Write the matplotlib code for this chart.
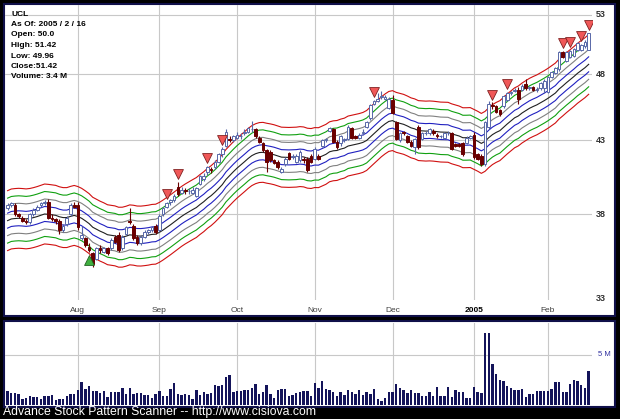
import numpy as np
import pandas as pd
import matplotlib
matplotlib.use('Agg')
import matplotlib.pyplot as plt

plt.rcParams['font.family'] = ['Liberation Sans', 'DejaVu Sans']

# Trading days shown on the chart
HOLIDAYS = ['2004-09-06', '2004-11-25', '2004-12-24', '2005-01-17']
dates = pd.bdate_range('2004-07-06', '2005-02-16')
dates = dates[~dates.isin(pd.to_datetime(HOLIDAYS))]

# Daily prices (July .. Feb)
opens = [38.4, 38.6, 38.6, 38.0, 37.8, 37.6, 37.5, 38.0, 38.3, 38.6, 38.7, 38.8, 37.8, 37.7, 37.6, 37.0, 37.4, 38.0, 38.6,
         38.6, 36.5, 36.5, 36.0, 35.6, 35.3, 35.9, 35.7, 35.9, 35.9, 36.6, 36.7, 35.9, 36.8, 37.6, 37.3, 36.6, 36.2, 36.6, 36.9, 37.0, 37.3,
         37.0, 38.0, 38.5, 38.8, 38.9, 39.8, 39.4, 39.6, 39.5, 39.4, 39.2, 40.0, 40.3, 40.8, 41.0, 41.1, 41.5, 42.0, 42.6, 43.1, 43.0,
         43.2, 43.3, 43.5, 43.6, 43.8, 43.8, 43.2, 42.8, 42.3, 42.2, 41.6, 41.5, 40.8, 41.3, 42.1, 41.8, 41.5, 41.6, 41.7, 41.7, 41.9,
         41.7, 41.9, 42.6, 43.0, 43.7, 43.8, 42.9, 42.8, 43.0, 43.1, 43.9, 43.3, 43.2, 43.5, 44.0, 44.6, 45.7, 45.9, 46.2, 46.1, 45.4,
         46.0, 44.3, 43.0, 43.6, 43.3, 42.9, 42.5, 44.0, 43.1, 43.5, 43.5, 43.7, 43.4, 43.3, 43.2, 43.5, 43.5, 42.7, 42.7, 42.8, 42.8, 43.2,
         43.4, 42.0, 41.9, 41.3, 44.0, 45.6, 45.5, 45.2, 45.5, 46.0, 46.5, 46.7, 46.8, 46.8, 47.2, 46.9, 47.0, 46.8, 46.9, 46.9,
         46.6, 47.8, 48.1, 48.4, 49.8, 49.1, 49.4, 49.5, 50.0, 50.0, 50.3, 50.0]
highs = [38.7, 38.8, 38.7, 38.1, 37.9, 37.7, 38.1, 38.4, 38.6, 38.8, 38.9, 39.0, 38.0, 37.8, 37.7, 37.4, 37.9, 38.7, 38.8,
         38.8, 37.3, 36.6, 36.2, 35.7, 36.0, 36.1, 36.0, 36.0, 36.5, 36.7, 36.9, 36.7, 37.3, 38.4, 37.4, 36.7, 36.7, 37.0, 37.1, 37.3, 37.4,
         38.0, 38.5, 38.8, 39.0, 39.3, 40.1, 39.8, 39.7, 39.7, 39.8, 39.8, 40.6, 40.7, 41.2, 41.1, 41.6, 42.1, 42.5, 43.8, 43.3, 43.4,
         43.6, 43.5, 43.8, 44.0, 44.4, 43.9, 43.3, 42.9, 42.4, 42.3, 41.7, 41.6, 41.1, 41.8, 42.2, 42.0, 42.0, 42.3, 41.8, 41.8, 42.0,
         42.5, 42.0, 43.1, 43.2, 44.0, 43.9, 43.0, 43.4, 43.2, 44.1, 44.0, 43.4, 43.5, 43.8, 44.4, 45.7, 46.0, 46.5, 46.7, 46.4, 46.2,
         46.4, 44.4, 43.6, 43.7, 43.4, 43.0, 43.2, 44.1, 43.6, 43.7, 43.9, 43.8, 43.5, 43.4, 43.6, 43.7, 43.6, 42.8, 42.8, 42.9, 43.3, 43.4,
         43.6, 42.1, 42.0, 44.4, 45.9, 45.8, 45.6, 45.3, 46.4, 46.6, 46.7, 46.9, 47.0, 47.2, 47.6, 47.1, 47.1, 47.0, 47.4, 47.6,
         47.9, 48.3, 48.6, 49.9, 49.9, 49.9, 50.0, 50.2, 50.7, 50.5, 50.8, 51.42]
lows = [38.3, 38.5, 37.9, 37.8, 37.5, 37.4, 37.4, 37.9, 38.2, 38.5, 38.6, 37.7, 37.6, 37.4, 36.8, 36.9, 37.3, 37.9, 38.4,
        37.0, 36.4, 36.0, 35.7, 34.8, 35.2, 35.6, 35.6, 35.5, 35.8, 36.2, 35.7, 35.8, 36.7, 37.4, 36.4, 36.1, 36.1, 36.5, 36.8, 36.9, 36.8,
        36.9, 37.9, 38.4, 38.6, 38.8, 39.2, 39.3, 39.3, 39.3, 39.3, 39.1, 39.9, 40.2, 40.6, 40.7, 41.0, 41.4, 41.8, 42.5, 42.9, 42.9,
        43.1, 43.1, 43.4, 43.5, 43.6, 43.2, 42.8, 42.2, 40.8, 41.5, 41.3, 41.0, 40.7, 41.2, 41.6, 41.7, 41.4, 41.5, 41.4, 40.8, 41.4,
        41.6, 41.6, 42.5, 42.9, 43.6, 42.8, 42.4, 42.6, 42.9, 43.0, 43.1, 43.1, 43.1, 43.4, 43.9, 44.5, 45.6, 45.8, 46.1, 46.0, 45.3,
        44.9, 43.0, 42.9, 43.4, 42.8, 42.5, 42.0, 42.4, 43.0, 43.4, 43.4, 43.4, 43.2, 43.2, 43.1, 43.4, 42.3, 42.5, 42.5, 41.9, 42.7, 43.1,
        41.7, 41.6, 41.2, 41.2, 43.8, 45.3, 45.0, 44.8, 45.4, 45.9, 46.4, 46.6, 45.7, 46.7, 46.8, 46.8, 46.7, 46.6, 46.8, 46.5,
        46.5, 47.7, 48.0, 48.3, 49.3, 49.0, 49.3, 49.4, 49.9, 49.9, 50.2, 49.96]
closes = [38.6, 38.7, 38.0, 37.9, 37.6, 37.5, 38.0, 38.3, 38.5, 38.7, 38.8, 37.8, 37.7, 37.6, 37.0, 37.3, 37.8, 38.6, 38.5,
          37.2, 36.7, 36.1, 35.8, 35.0, 35.9, 35.8, 35.9, 35.6, 36.4, 36.3, 35.8, 36.6, 37.2, 37.5, 36.5, 36.2, 36.6, 36.9, 37.0, 37.2, 36.9,
          37.9, 38.4, 38.7, 38.9, 39.2, 39.3, 39.6, 39.5, 39.5, 39.6, 39.7, 40.5, 40.5, 41.1, 40.9, 41.5, 42.0, 42.4, 43.6, 43.0, 43.3,
          43.4, 43.3, 43.6, 43.9, 43.8, 43.3, 42.9, 42.3, 41.5, 41.6, 41.4, 41.1, 41.0, 41.7, 41.7, 41.9, 41.9, 42.2, 41.6, 40.9, 41.5,
          42.4, 41.7, 43.0, 43.1, 43.9, 42.9, 42.5, 43.3, 43.1, 44.0, 43.2, 43.2, 43.4, 43.6, 44.3, 45.6, 45.9, 46.1, 46.3, 46.2, 46.1,
          45.0, 43.1, 43.5, 43.5, 42.9, 42.6, 43.1, 42.5, 43.5, 43.5, 43.8, 43.5, 43.3, 43.3, 43.5, 43.5, 42.4, 42.6, 42.6, 42.0, 43.2, 43.3,
          41.8, 41.7, 41.3, 44.3, 45.7, 45.5, 45.1, 44.9, 46.3, 46.5, 46.6, 46.8, 46.1, 47.1, 46.9, 47.0, 46.8, 46.8, 47.3, 47.5,
          47.8, 48.2, 48.5, 49.8, 49.4, 49.8, 49.9, 50.1, 50.6, 50.4, 50.7, 51.42]
# Volume in millions
volume = [1.4, 1.2, 1.25, 1.1, 0.6, 0.7, 0.9, 0.85, 0.85, 0.6, 0.95, 0.95, 1.05, 0.5, 0.65, 0.6, 0.95, 1.15, 1.1,
          1.55, 2.3, 1.6, 1.95, 1.4, 1.45, 1.25, 1.4, 0.85, 1.3, 1.35, 1.35, 1.75, 1.15, 1.75, 1.1, 1.25, 1.25, 1.0, 1.05, 0.7, 1.15,
          1.45, 0.95, 0.9, 1.6, 2.2, 1.15, 1.0, 1.15, 1.05, 0.65, 1.5, 1.0, 1.35, 1.15, 1.2, 2.05, 1.9, 2.0, 2.85, 3.05, 1.3,
          1.45, 1.45, 1.55, 1.55, 1.7, 2.1, 1.15, 1.35, 2.0, 1.15, 0.7, 1.5, 1.6, 1.6, 0.9, 1.0, 1.2, 1.35, 1.45, 1.45, 0.9,
          2.25, 1.75, 2.45, 1.65, 1.55, 1.35, 0.9, 1.3, 1.0, 1.55, 1.35, 1.1, 1.55, 1.0, 1.35, 1.15, 1.6, 0.6, 0.4, 0.7, 1.35,
          1.35, 2.1, 1.75, 1.55, 1.25, 1.55, 1.2, 1.25, 0.9, 0.9, 1.35, 0.9, 1.85, 0.9, 0.9, 1.8, 0.8, 1.55, 1.35, 1.35, 0.7, 0.7,
          1.85, 1.35, 1.2, 7.2, 7.25, 4.1, 3.15, 2.55, 2.4, 1.9, 1.75, 1.5, 1.55, 1.6, 0.8, 1.1, 1.15, 1.4, 1.4, 1.4,
          1.45, 1.6, 2.3, 2.3, 1.3, 1.3, 2.1, 2.55, 2.4, 2.0, 1.75, 3.4]

# level of the band centre at the left edge
ma_start = 37.5
# pattern signals (day index)
sell_days = [43, 46, 54, 58, 99, 131, 135, 150, 152, 155, 157]
buy_days = [22]

price_ticks = [33, 38, 43, 48, 53]
info_lines = ['UCL', 'As Of: 2005 / 2 / 16', 'Open: 50.0', 'High: 51.42', 'Low: 49.96',
              'Close:51.42', 'Volume: 3.4 M']

n = len(dates)
x = np.arange(n)
o = np.array(opens); h = np.array(highs); l = np.array(lows); c = np.array(closes)

month_pos = [i for i in range(1, n) if dates[i].month != dates[i - 1].month]
month_lab = ['2005' if dates[i].month == 1 else dates[i].strftime('%b') for i in month_pos]

W, H = 620, 419
fig = plt.figure(figsize=(6.2, 4.19), dpi=100, facecolor='black')


def box(x0, y0, x1, y1):
    return [x0 / W, 1 - y1 / H, (x1 - x0) / W, (y1 - y0) / H]


# white panels
for b in [box(4, 4, 615, 316), box(4, 321, 615, 407)]:
    bg = fig.add_axes(b, facecolor='white')
    bg.set_xticks([]); bg.set_yticks([])
    for s in bg.spines.values():
        s.set_color('#10104a'); s.set_linewidth(1.5)

ax = fig.add_axes(box(5, 5, 592, 300))
ax.set_facecolor('none')
ax.set_yscale('log')
ax.set_ylim(32.94, 53.89)
ax.set_xlim(-0.7, n - 0.1)
for s in ax.spines.values():
    s.set_visible(False)
ax.set_xticks([]); ax.set_yticks([])
ax.minorticks_off()

for p in price_ticks[1:]:
    ax.axhline(p, color='#c8c8c8', lw=0.8, zorder=0)
for m in month_pos:
    ax.axvline(m, color='#c8c8c8', lw=0.8, zorder=0)

# envelope bands around a 20 day moving average
centre = pd.Series([ma_start] + closes).ewm(span=20, adjust=False).mean().values[1:]
band_cols = ['#d01010', '#10a010', '#808080', '#2020c0', '#202020', '#2020c0', '#808080', '#10a010', '#d01010']
for k, col in zip(range(4, -5, -1), band_cols):
    ax.plot(x, centre * np.exp(0.0125 * k), color=col, lw=0.8, zorder=1)

# candlesticks
up = c >= o
ax.vlines(x[up], l[up], h[up], color='#5868a8', lw=0.8, zorder=2)
ax.vlines(x[~up], l[~up], h[~up], color='#6a0000', lw=0.8, zorder=2)
body = np.where(np.abs(c - o) < 0.03, 0.03, c - o)
ax.bar(x[up], body[up], bottom=o[up], width=0.72, color='white', edgecolor='#5868a8', lw=0.7, zorder=3)
ax.bar(x[~up], body[~up], bottom=o[~up], width=0.72, color='#6a0000', edgecolor='#6a0000', lw=0.7, zorder=3)

# signal markers
sd = np.array(sell_days)
ax.scatter(sd, h[sd] * 1.013, marker='v', s=50, color='#f05858', edgecolor='#802020', lw=0.6, zorder=4)
bd = np.array(buy_days)
ax.scatter(bd, l[bd] * 0.987, marker='^', s=50, color='#40b040', edgecolor='#206020', lw=0.6, zorder=4)

for p in price_ticks:
    ax.text(1.007, p, str(p), transform=ax.get_yaxis_transform(), ha='left', va='center',
            fontsize=6.5, fontweight='bold', color='#303030')
for m, lab in zip(month_pos, month_lab):
    ax.text(m, -0.034, lab, transform=ax.get_xaxis_transform(), ha='center', va='center', fontsize=6,
            color='#404040' if lab != '2005' else 'black',
            fontweight='bold' if lab == '2005' else 'normal', clip_on=False)
for i, t in enumerate(info_lines):
    fig.text(11 / W, 1 - (14 + i * 10.5) / H, t, ha='left', va='center', fontsize=6, fontweight='bold', color='black')

# volume
vx = fig.add_axes(box(5, 323, 592, 405))
vx.set_facecolor('none')
vx.set_xlim(-0.7, n - 0.1)
vx.set_ylim(0, 8.2)
for s in vx.spines.values():
    s.set_visible(False)
vx.set_xticks([]); vx.set_yticks([])
vx.axhline(5, color='#c8c8c8', lw=0.8, zorder=0)
for m in month_pos:
    vx.axvline(m, color='#c8c8c8', lw=0.8, zorder=0)
vx.bar(x, volume, width=0.65, color='#14145a', zorder=2)
vx.text(1.01, 5, '5 M', transform=vx.get_yaxis_transform(), ha='left', va='center', fontsize=5.5, color='#3030a0')

fig.text(3 / W, 1 - 412 / H, 'Advance Stock Pattern Scanner -- http://www.cisiova.com', ha='left', va='center',
         fontsize=8.8, color='white')

fig.savefig('out.png', dpi=100, facecolor='black')
